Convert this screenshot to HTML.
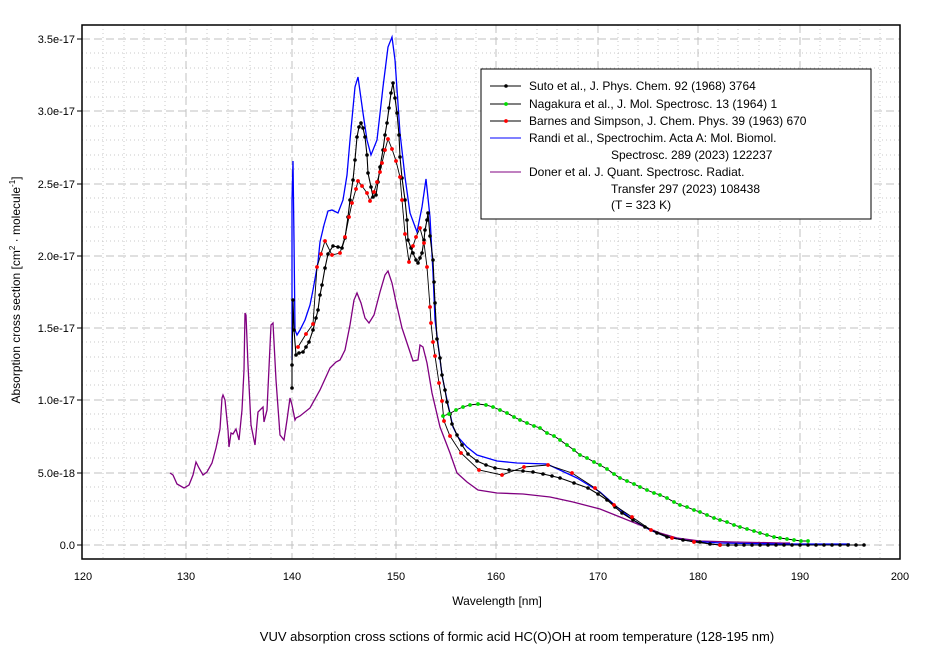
<!DOCTYPE html>
<html><head><meta charset="utf-8"><style>
body{margin:0;background:#fff;}
svg text{font-family:"Liberation Sans",Arial,sans-serif;}
</style></head><body>
<svg width="942" height="651" xmlns="http://www.w3.org/2000/svg">
<defs>
<marker id="mk" markerWidth="4" markerHeight="4" refX="2" refY="2" markerUnits="userSpaceOnUse"><circle cx="2" cy="2" r="1.8" fill="#000"/></marker>
<marker id="mr" markerWidth="4" markerHeight="4" refX="2" refY="2" markerUnits="userSpaceOnUse"><circle cx="2" cy="2" r="1.9" fill="#f00"/></marker>
<marker id="mg" markerWidth="4" markerHeight="4" refX="2" refY="2" markerUnits="userSpaceOnUse"><circle cx="2" cy="2" r="1.9" fill="#0d0"/></marker>
</defs>
<rect x="82" y="25" width="818" height="534" fill="#fff"/>
<g stroke="#c8c8c8" stroke-width="1" stroke-dasharray="1,3">
<path d="M103 25V559M124 25V559M144 25V559M165 25V559M207 25V559M228 25V559M250 25V559M271 25V559M313 25V559M334 25V559M355 25V559M376 25V559M416 25V559M436 25V559M456 25V559M476 25V559M516 25V559M537 25V559M557 25V559M578 25V559M618 25V559M638 25V559M658 25V559M678 25V559M718 25V559M738 25V559M759 25V559M780 25V559M820 25V559M840 25V559M860 25V559M880 25V559"/>
<path d="M82 530H900M82 516H900M82 501H900M82 487H900M82 458H900M82 443H900M82 429H900M82 414H900M82 385H900M82 371H900M82 357H900M82 342H900M82 313H900M82 299H900M82 284H900M82 270H900M82 241H900M82 227H900M82 212H900M82 198H900M82 169H900M82 155H900M82 140H900M82 126H900M82 97H900M82 82H900M82 68H900M82 53H900"/>
</g>
<g stroke="#c0c0c0" stroke-width="1" stroke-dasharray="8,4">
<path d="M186 25V559M292 25V559M396 25V559M496 25V559M598 25V559M698 25V559M800 25V559"/>
<path d="M82 545H900M82 473H900M82 400H900M82 328H900M82 256H900M82 184H900M82 111H900M82 39H900"/>
</g>
<rect x="82" y="25" width="818" height="534" fill="none" stroke="#000" stroke-width="1.5"/>
<g stroke="#000">
<path d="M77 545H82M77 473H82M77 400H82M77 328H82M77 256H82M77 184H82M77 111H82M77 39H82"/>
</g>
<g font-size="11" text-anchor="end" fill="#000">
<text x="75" y="549">0.0</text><text x="75" y="477">5.0e-18</text><text x="75" y="404">1.0e-17</text><text x="75" y="332">1.5e-17</text><text x="75" y="260">2.0e-17</text><text x="75" y="188">2.5e-17</text><text x="75" y="115">3.0e-17</text><text x="75" y="43">3.5e-17</text>
</g>
<g font-size="11" text-anchor="middle" fill="#000">
<text x="83" y="580">120</text><text x="186" y="580">130</text><text x="292" y="580">140</text><text x="396" y="580">150</text><text x="496" y="580">160</text><text x="598" y="580">170</text><text x="698" y="580">180</text><text x="800" y="580">190</text><text x="900" y="580">200</text>
</g>
<text x="497" y="605" font-size="12" text-anchor="middle">Wavelength [nm]</text>
<text transform="translate(20,290) rotate(-90)" font-size="12" text-anchor="middle">Absorption cross section [cm<tspan dy="-5" font-size="8">2</tspan><tspan dy="5"> · molecule</tspan><tspan dy="-5" font-size="8">-1</tspan><tspan dy="5">]</tspan></text>
<text x="517" y="641" font-size="13" text-anchor="middle">VUV absorption cross sctions of formic acid HC(O)OH at room temperature (128-195 nm)</text>

<!-- Doner purple -->
<polyline fill="none" stroke="#800080" stroke-width="1.3" points="170,473 173,475 177,484 184,488 189,485 193,475 196,462 199,468 203,475 207,472 212,463 216,448 220,429 222,398 223,395 225,400 228,430 229,447 231,433 233,434 236,429 239,440 242,410 244,370 245,313 246,315 248,365 251,425 255,445 258,412 263,407 264,422 267,410 271,325 273,323 276,380 280,435 284,440 287,420 290,398 292,405 295,420 296,418 300,416 310,408 320,390 330,368 336,362 340,360 345,350 350,325 354,300 357,293 361,303 365,318 369,323 374,315 380,292 385,275 388,271 392,283 396,302 402,328 407,343 413,361 418,360 420,345 423,347 427,363 432,393 440,427 450,453 457,473 467,482 478,490 497,493 523,494 550,497 573,502 600,509 620,517 640,525 660,533 677,538 700,541 733,542 783,543 790,543"/>
<!-- Randi blue -->
<polyline fill="none" stroke="#0000ff" stroke-width="1.3" points="292,360 292,200 293,161 294,240 295,330 297,335 300,330 305,320 310,305 313,290 318,262 320,242 324,225 328,211 332,210 338,213 343,200 347,175 350,140 355,87 358,77 363,113 367,140 371,155 377,140 383,87 388,47 392,37 395,60 400,133 405,177 410,213 417,232 422,207 426,179 430,217 433,273 435,320 442,375 447,400 453,427 458,437 467,447 477,455 497,461 517,463 547,464 577,478 600,492 617,507 633,520 650,530 667,537 690,541 720,543 780,544 850,544"/>
<!-- Suto black -->
<polyline fill="none" stroke="#000" stroke-width="1.1" marker-start="url(#mk)" marker-mid="url(#mk)" marker-end="url(#mk)" points="292,388 292,365 293,300 294,330 296,355 299,353 303,352 306,347 309,342 313,330 316,318 318,310 320,295 322,285 325,268 328,254 333,246 338,247 342,248 345,238 348,217 350,200 353,180 355,160 357,137 359,127 361,123 363,128 365,137 367,155 368,173 371,187 373,197 376,195 378,182 380,167 383,150 385,135 387,123 389,108 391,93 393,83 395,98 397,113 399,135 400,157 402,178 405,200 407,220 408,240 411,248 413,253 416,260 418,263 420,258 422,253 424,240 425,230 427,220 428,213 430,236 433,260 434,282 435,303 437,339 440,358 442,375 445,390 447,402 450,414 452,424 457,435 462,445 468,454 477,461 486,465 495,468 509,470 523,471 533,472 543,474 552,476 560,478 574,483 588,488 598,494 607,500 615,507 622,513 633,520 645,527 657,533 667,537 683,540 700,542 710,544 720,545 728,545 736,545 744,545 752,545 760,545 768,545 776,545 784,545 792,545 800,545 808,545 816,545 824,545 832,545 840,545 848,545 856,545 864,545"/>
<!-- Barnes red -->
<polyline fill="none" stroke="#000" stroke-width="0.9" marker-start="url(#mr)" marker-mid="url(#mr)" marker-end="url(#mr)" points="298,347 306,334 313,324 317,267 321,254 325,241 332,255 340,253 345,237 349,217 352,203 356,189 358,181 362,186 367,193 370,201 374,192 377,182 380,172 382,163 385,150 388,139 392,149 396,161 400,177 402,200 405,234 409,262 413,246 416,237 420,228 424,243 427,267 430,307 431,323 433,342 435,356 439,383 442,401 444,421 450,436 461,453 479,470 502,475 524,467 548,465 572,473 595,488 614,505 632,517 651,530 672,538 694,542 720,545"/>
<!-- Nagakura green -->
<polyline fill="none" stroke="#000" stroke-width="0.9" marker-start="url(#mg)" marker-mid="url(#mg)" marker-end="url(#mg)" points="443,416 449,414 456,410 463,407 470,405 478,404 486,405 493,407 500,410 507,413 514,417 520,420 527,423 534,426 540,428 547,433 554,436 560,440 567,445 574,450 580,455 587,458 594,462 600,465 607,469 614,474 620,478 627,481 634,484 640,487 647,490 654,493 660,495 667,498 674,502 680,505 687,507 694,510 700,512 707,515 714,518 720,520 727,522 734,525 740,527 747,529 754,531 760,533 767,535 774,537 780,538 787,539 794,540 801,541 808,541"/>

<!-- Legend -->
<rect x="481" y="69" width="390" height="150" fill="#fff" stroke="#000" stroke-width="1"/>
<g stroke-width="1">
<line x1="490" y1="86" x2="521" y2="86" stroke="#000"/><circle cx="506" cy="86" r="1.8" fill="#000"/>
<line x1="490" y1="104" x2="521" y2="104" stroke="#000"/><circle cx="506" cy="104" r="1.9" fill="#0d0"/>
<line x1="490" y1="121" x2="521" y2="121" stroke="#000"/><circle cx="506" cy="121" r="1.9" fill="#f00"/>
<line x1="490" y1="138" x2="521" y2="138" stroke="#0000ff"/>
<line x1="490" y1="172" x2="521" y2="172" stroke="#800080"/>
</g>
<g font-size="12" fill="#000">
<text x="529" y="90">Suto et al., J. Phys. Chem. 92 (1968) 3764</text>
<text x="529" y="108">Nagakura et al., J. Mol. Spectrosc. 13 (1964) 1</text>
<text x="529" y="125">Barnes and Simpson, J. Chem. Phys. 39 (1963) 670</text>
<text x="529" y="142">Randi et al., Spectrochim. Acta A: Mol. Biomol.</text>
<text x="611" y="159">Spectrosc. 289 (2023) 122237</text>
<text x="529" y="176">Doner et al. J. Quant. Spectrosc. Radiat.</text>
<text x="611" y="193">Transfer 297 (2023) 108438</text>
<text x="611" y="209">(T = 323 K)</text>
</g>
</svg>
</body></html>
